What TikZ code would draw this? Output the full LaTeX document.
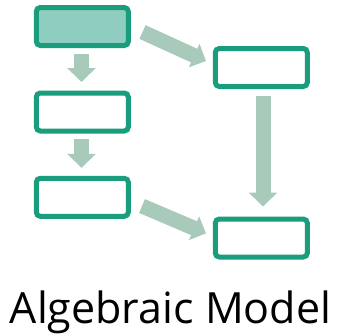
\documentclass[tikz,border=0pt]{standalone}
\usepackage{fontspec}
\setmainfont{Open Sans}
\usetikzlibrary{arrows.meta,calc}
\definecolor{boxline}{HTML}{1A9D7D}
\definecolor{boxfill}{HTML}{8ECDBF}
\definecolor{flow}{HTML}{A8CABB}
\tikzset{
  stage/.style={draw=boxline, line width=5pt, rounded corners=4pt,
    minimum width=92pt, minimum height=38pt, inner sep=0pt, fill=white},
  start/.style={stage, fill=boxfill},
  flowarrow/.style={draw=flow, line width=15pt,
    -{Triangle[width=28pt,length=14pt]}},
  diagarrow/.style={draw=flow, line width=15pt,
    -{Triangle[width=25pt,length=13pt]}},
}
\begin{document}
\begin{tikzpicture}[x=1pt,y=-1pt]
  \useasboundingbox (0,0) rectangle (352,335);
  % boxes
  \node[start] (b1) at (82.3,26.5) {};
  \node[stage] (b2) at (82.3,112) {};
  \node[stage] (b3) at (82.3,197.3) {};
  \node[stage] (r1) at (261.3,67.5) {};
  \node[stage] (r2) at (261.3,238) {};
  % arrow end points
  \coordinate (d1s) at ($(b1.south)+(-0.8,5.5)$);
  \coordinate (d1e) at ($(b2.north)+(-0.8,-8.5)$);
  \coordinate (d2s) at ($(b2.south)+(-0.8,5.5)$);
  \coordinate (d2e) at ($(b3.north)+(-0.8,-8)$);
  \coordinate (d3s) at ($(r1.south)+(1.7,7)$);
  \coordinate (d3e) at ($(r2.north)+(1.7,-10)$);
  \coordinate (a1s) at (142.5,32);
  \coordinate (a1e) at (206,61);
  \coordinate (a2s) at (142,206);
  \coordinate (a2e) at (206,233.3);
  % connectors
  \draw[flowarrow] (d1s) -- (d1e);
  \draw[flowarrow] (d2s) -- (d2e);
  \draw[flowarrow] (d3s) -- (d3e);
  \draw[diagarrow] (a1s) -- (a1e);
  \draw[diagarrow] (a2s) -- (a2e);
  % caption
  \node[anchor=base, inner sep=0pt, font=\fontsize{43}{50}\selectfont] (cap) at (170.5,323) {Algebraic Model};
\end{tikzpicture}
\end{document}
